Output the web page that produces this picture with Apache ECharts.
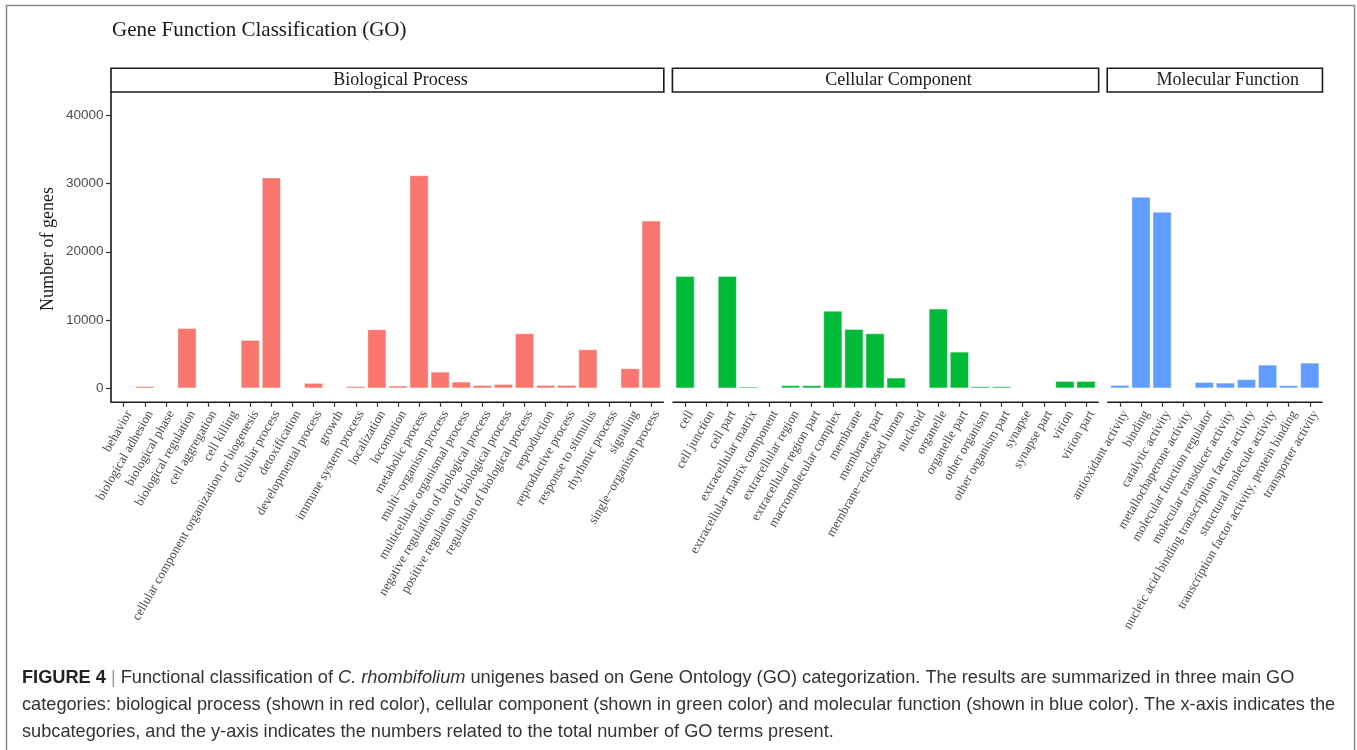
<!DOCTYPE html>
<html>
<head>
<meta charset="utf-8">
<script src="https://cdn.jsdelivr.net/npm/echarts@6/dist/echarts.min.js"></script>
<style>
  html, body { margin: 0; padding: 0; background: #ffffff; }
  #chart { width: 1357px; height: 750px; }
</style>
</head>
<body>
<div id="chart"></div>
<script>
// GO term counts per sub-category, one array per main GO category
const bpCategories = [
  'behavior', 'biological adhesion', 'biological phase', 'biological regulation',
  'cell aggregation', 'cell killing', 'cellular component organization or biogenesis',
  'cellular process', 'detoxification', 'developmental process', 'growth',
  'immune system process', 'localization', 'locomotion', 'metabolic process',
  'multi\u2212organism process', 'multicellular organismal process',
  'negative regulation of biological process', 'positive regulation of biological process',
  'regulation of biological process', 'reproduction', 'reproductive process',
  'response to stimulus', 'rhythmic process', 'signaling', 'single\u2212organism process'
];
const bpValues = [
  60, 330, 100, 8800, 10, 70, 7080, 30880, 20, 780, 90, 330, 8650, 390, 31200,
  2430, 970, 480, 630, 8050, 480, 480, 5700, 50, 2920, 24550
];

const ccCategories = [
  'cell', 'cell junction', 'cell part', 'extracellular matrix',
  'extracellular matrix component', 'extracellular region', 'extracellular region part',
  'macromolecular complex', 'membrane', 'membrane part', 'membrane\u2212enclosed lumen',
  'nucleoid', 'organelle', 'organelle part', 'other organism', 'other organism part',
  'synapse', 'synapse part', 'virion', 'virion part'
];
const ccValues = [
  16450, 80, 16450, 240, 20, 440, 440, 11360, 8680, 8050, 1560, 60, 11660, 5360,
  290, 290, 60, 60, 1070, 1070
];

const mfCategories = [
  'antioxidant activity', 'binding', 'catalytic activity', 'metallochaperone activity',
  'molecular function regulator', 'molecular transducer activity',
  'nucleic acid binding transcription factor activity', 'structural molecule activity',
  'transcription factor activity, protein binding', 'transporter activity'
];
const mfValues = [480, 28050, 25860, 40, 920, 820, 1320, 3460, 440, 3750];

const panelTitles = ['Biological Process', 'Cellular Component', 'Molecular Function'];
const panelColors = ['#F8766D', '#00BA38', '#619CFF'];
const yTicks = [0, 10000, 20000, 30000, 40000];

const chartTitle = 'Gene Function Classification (GO)';
const yAxisTitle = 'Number of genes';

// ---- layout (facet panels share one category width) ----
const UNIT = 21.1;           // width of one category slot
const PANEL_LEFT = 111;      // left edge of the first panel
const PANEL_GAP = 8.6;       // space between panels
const PANEL_TOP = 92;
const PANEL_BOTTOM = 402.3;
const STRIP_TOP = 68.3;
const STRIP_TEXT_SHIFT = 13; // strip labels sit a little right of centre
const Y_MIN = -2050, Y_MAX = 43400;

const panels = [
  { cats: bpCategories, vals: bpValues },
  { cats: ccCategories, vals: ccValues },
  { cats: mfCategories, vals: mfValues }
];

let cursor = PANEL_LEFT;
panels.forEach(function (p, i) {
  p.title = panelTitles[i];
  p.color = panelColors[i];
  p.left = cursor;
  p.width = (p.cats.length + 0.2) * UNIT;   // 0.6 slot padding on each side of the outer ticks
  p.right = p.left + p.width;
  cursor = p.right + PANEL_GAP;
});

const serif = 'Liberation Serif, Times New Roman, serif';
const sans = 'Liberation Sans, Arial, sans-serif';

const grids = [], xAxes = [], yAxes = [], series = [];
panels.forEach(function (p, i) {
  grids.push({
    left: p.left + 0.1 * UNIT,
    width: p.cats.length * UNIT,
    top: PANEL_TOP,
    height: PANEL_BOTTOM - PANEL_TOP,
    containLabel: false
  });
  xAxes.push({
    type: 'category',
    gridIndex: i,
    position: 'bottom',
    data: p.cats,
    axisLine: { show: false, onZero: false },
    axisTick: { show: true, alignWithLabel: true, length: 4.5, lineStyle: { color: '#333333', width: 1.2 } },
    axisLabel: {
      interval: 0, rotate: 60, margin: 6,
      align: 'right', verticalAlign: 'top',
      fontFamily: serif, fontSize: 13, color: '#4d4d4d'
    },
    splitLine: { show: false }
  });
  const first = i === 0;
  yAxes.push({
    type: 'value',
    gridIndex: i,
    min: Y_MIN,
    max: Y_MAX,
    offset: first ? 0.1 * UNIT : 0,
    axisLine: { show: first, lineStyle: { color: '#1a1a1a', width: 1.6 } },
    axisTick: { show: first, length: 5, customValues: yTicks, lineStyle: { color: '#333333', width: 1.2 } },
    axisLabel: {
      show: first, customValues: yTicks, margin: 7.5,
      fontFamily: sans, fontSize: 13.5, color: '#4d4d4d',
      formatter: function (v) { return String(v); }
    },
    splitLine: { show: false }
  });
  series.push({
    type: 'bar',
    xAxisIndex: i,
    yAxisIndex: i,
    data: p.vals,
    barWidth: '90%',
    itemStyle: { color: p.color, borderColor: 'rgba(255,255,255,0.55)', borderWidth: 0.8 },
    emphasis: { disabled: true },
    animation: false
  });
});

const graphics = [];
// figure frame
graphics.push({
  type: 'rect', silent: true,
  shape: { x: 6.5, y: 5.5, width: 1348, height: 760 },
  style: { fill: 'none', stroke: '#8c8c8c', lineWidth: 1.5 }
});
// chart title
graphics.push({
  type: 'text', silent: true, x: 112, y: 30,
  style: { text: chartTitle, font: '21px ' + serif, fill: '#1a1a1a', textAlign: 'left', textVerticalAlign: 'middle' }
});
// y-axis title
graphics.push({
  type: 'text', silent: true, x: 48, y: 249, rotation: Math.PI / 2,
  style: { text: yAxisTitle, font: '18px ' + serif, fill: '#1a1a1a', textAlign: 'center', textVerticalAlign: 'middle' }
});
// facet strips and bottom axis lines
panels.forEach(function (p) {
  graphics.push({
    type: 'rect', silent: true,
    shape: { x: p.left, y: STRIP_TOP, width: p.width, height: PANEL_TOP - STRIP_TOP },
    style: { fill: '#ffffff', stroke: '#1a1a1a', lineWidth: 1.6 }
  });
  graphics.push({
    type: 'text', silent: true,
    x: (p.left + p.right) / 2 + STRIP_TEXT_SHIFT, y: (STRIP_TOP + PANEL_TOP) / 2 + 0.5,
    style: { text: p.title, font: '18px ' + serif, fill: '#1a1a1a', textAlign: 'center', textVerticalAlign: 'middle' }
  });
  graphics.push({
    type: 'line', silent: true,
    shape: { x1: p.left, y1: PANEL_BOTTOM, x2: p.right, y2: PANEL_BOTTOM },
    style: { stroke: '#1a1a1a', lineWidth: 1.6 }
  });
});
// figure caption
const captionLines = [
  '{b|FIGURE 4 }{bar||}{r| Functional classification of }{i|C. rhombifolium}{r| unigenes based on Gene Ontology (GO) categorization. The results are summarized in three main GO}',
  '{r|categories: biological process (shown in red color), cellular component (shown in green color) and molecular function (shown in blue color). The x-axis indicates the}',
  '{r|subcategories, and the y-axis indicates the numbers related to the total number of GO terms present.}'
];
const capFont = 18.2;
const capRich = {
  b: { fontFamily: sans, fontSize: capFont, fontWeight: 'bold', fill: '#222222' },
  bar: { fontFamily: sans, fontSize: capFont, fill: '#999999' },
  r: { fontFamily: sans, fontSize: capFont, fill: '#333333' },
  i: { fontFamily: sans, fontSize: capFont, fontStyle: 'italic', fill: '#333333' }
};
captionLines.forEach(function (line, k) {
  graphics.push({
    type: 'text', silent: true, x: 22, y: 678 + k * 27,
    style: { text: line, rich: capRich, textAlign: 'left', textVerticalAlign: 'middle' }
  });
});

const chart = echarts.init(document.getElementById('chart'), null, { renderer: 'canvas' });
chart.setOption({
  animation: false,
  backgroundColor: '#ffffff',
  grid: grids,
  xAxis: xAxes,
  yAxis: yAxes,
  series: series,
  graphic: graphics
});
</script>
</body>
</html>
